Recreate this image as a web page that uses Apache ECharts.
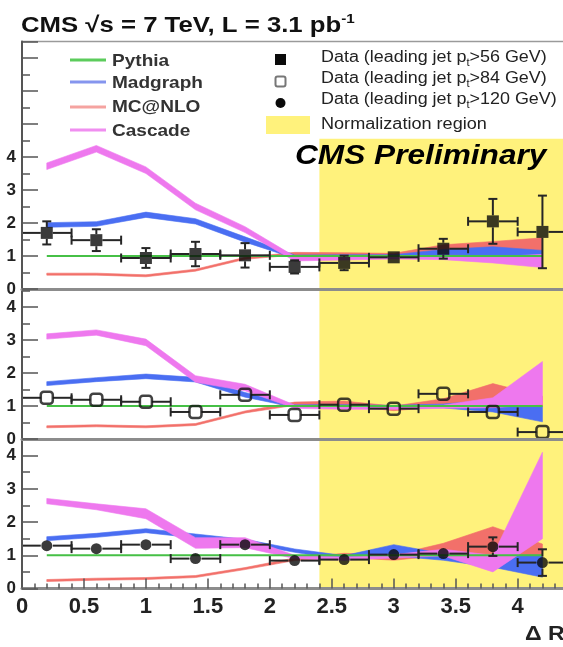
<!DOCTYPE html>
<html><head><meta charset="utf-8">
<script src="https://cdn.jsdelivr.net/npm/echarts@6/dist/echarts.min.js"></script>
<style>html,body{margin:0;padding:0;background:#fff}#c{width:563px;height:647px}</style>
</head><body><div id="c"></div>
<script>
// ---------- data ----------
const binCenters = [0.2, 0.6, 1.0, 1.4, 1.8, 2.2, 2.6, 3.0, 3.4, 3.8, 4.2];
const binHalfWidth = 0.2;
const normRegionStart = 2.4;
const yTickLabels = [0, 1, 2, 3, 4];
const xTickLabels = [0, 0.5, 1, 1.5, 2, 2.5, 3, 3.5, 4];

// panel 1 : leading jet pT > 56 GeV
const data56 = [1.70, 1.48, 0.94, 1.06, 1.02, 0.67, 0.79, 0.96, 1.22, 2.05, 1.73];
const err56  = [0.35, 0.33, 0.30, 0.37, 0.37, 0.20, 0.22, 0.10, 0.30, 0.68, 1.10];
const pythia56 = [1, 1, 1, 1, 1, 1, 1, 1, 1, 1, 1];
const madgraph56     = [1.94, 1.97, 2.25, 2.05, 1.50, 0.98, 1.00, 1.00, 1.12, 1.15, 1.05];
const madgraph56Half = [0.07, 0.07, 0.08, 0.08, 0.08, 0.05, 0.04, 0.04, 0.08, 0.13, 0.12];
const mcatnlo56      = [0.45, 0.45, 0.40, 0.57, 0.93, 1.07, 1.05, 1.02, 1.17, 1.22, 1.27];
const mcatnlo56Half  = [0.03, 0.03, 0.03, 0.03, 0.03, 0.04, 0.05, 0.06, 0.17, 0.22, 0.28];
const cascade56      = [3.72, 4.25, 3.60, 2.50, 1.80, 0.92, 0.93, 0.96, 0.95, 0.88, 0.85];
const cascade56Half  = [0.10, 0.10, 0.10, 0.10, 0.09, 0.07, 0.05, 0.05, 0.06, 0.09, 0.20];

// panel 2 : leading jet pT > 84 GeV
const data84 = [1.25, 1.19, 1.13, 0.82, 1.34, 0.73, 1.04, 0.92, 1.37, 0.82, 0.21];
const err84  = [0.08, 0.07, 0.08, 0.08, 0.16, 0.08, 0.08, 0.06, 0.12, 0.16, 0.12];
const pythia84 = [1, 1, 1, 1, 1, 1, 1, 1, 1, 1, 1];
const madgraph84     = [1.68, 1.80, 1.90, 1.80, 1.34, 1.00, 1.00, 0.98, 1.00, 1.00, 0.76];
const madgraph84Half = [0.06, 0.06, 0.07, 0.07, 0.07, 0.04, 0.04, 0.04, 0.06, 0.18, 0.24];
const mcatnlo84      = [0.37, 0.40, 0.37, 0.44, 0.82, 1.07, 1.08, 0.93, 1.10, 1.35, 1.15];
const mcatnlo84Half  = [0.03, 0.03, 0.03, 0.03, 0.03, 0.05, 0.07, 0.07, 0.12, 0.33, 0.15];
const cascade84      = [3.11, 3.23, 2.93, 1.82, 1.56, 0.98, 0.95, 0.95, 0.98, 1.10, 1.70];
const cascade84Half  = [0.08, 0.08, 0.10, 0.10, 0.10, 0.05, 0.05, 0.05, 0.05, 0.15, 0.65];

// panel 3 : leading jet pT > 120 GeV
const data120 = [1.29, 1.20, 1.32, 0.90, 1.32, 0.84, 0.87, 1.02, 1.05, 1.26, 0.78];
const err120  = [0.10, 0.08, 0.10, 0.08, 0.12, 0.06, 0.06, 0.07, 0.10, 0.28, 0.40];
const pythia120 = [1, 1, 1, 1, 1, 1, 1, 1, 1, 1, 1];
const madgraph120     = [1.50, 1.60, 1.74, 1.58, 1.42, 1.14, 0.92, 1.15, 0.95, 0.82, 0.67];
const madgraph120Half = [0.06, 0.06, 0.06, 0.06, 0.06, 0.05, 0.07, 0.17, 0.10, 0.18, 0.33];
const mcatnlo120      = [0.24, 0.28, 0.30, 0.36, 0.60, 0.88, 1.00, 0.93, 1.18, 1.43, 1.17];
const mcatnlo120Half  = [0.03, 0.03, 0.03, 0.03, 0.03, 0.04, 0.06, 0.08, 0.18, 0.43, 0.17];
const cascade120      = [2.63, 2.46, 2.25, 1.37, 1.38, 0.95, 0.90, 0.97, 1.08, 0.75, 2.80];
const cascade120Half  = [0.08, 0.09, 0.15, 0.16, 0.15, 0.05, 0.05, 0.05, 0.10, 0.25, 1.30];

// ---------- layout / style ----------
const FONT = '"Liberation Sans", Arial, sans-serif';
const X_MAX = 4.6;
const Y_MAX = [7.5, 4.55, 4.5];
const NORM_TOP = [4.55, 4.55, 4.5];
const GRIDS = [
  {left: 22, top: 41.5, width: 570, height: 247.5},
  {left: 22, top: 289, width: 570, height: 150},
  {left: 22, top: 439, width: 570, height: 149.5}
];
const COL = {pythia: '#46c046', madgraph: '#4a6ef2', mcatnlo: '#f2706a', cascade: '#ee78ee', yellow: '#fff27c'};
const LEG = {pythia: '#5ccc5c', madgraph: '#8595ee', mcatnlo: '#f5a3a0', cascade: '#f08ef0'};
const MARKER_GAP = 6;

const panels = [
  {data: data56, err: err56, pythia: pythia56, mg: madgraph56, mgH: madgraph56Half, nlo: mcatnlo56, nloH: mcatnlo56Half, cas: cascade56, casH: cascade56Half, marker: 'square'},
  {data: data84, err: err84, pythia: pythia84, mg: madgraph84, mgH: madgraph84Half, nlo: mcatnlo84, nloH: mcatnlo84Half, cas: cascade84, casH: cascade84Half, marker: 'open'},
  {data: data120, err: err120, pythia: pythia120, mg: madgraph120, mgH: madgraph120Half, nlo: mcatnlo120, nloH: mcatnlo120Half, cas: cascade120, casH: cascade120Half, marker: 'circle'}
];

function xAxisFor(i) {
  const isBottom = i === 2;
  return {
    type: 'value', gridIndex: i, min: 0, max: X_MAX, interval: 0.5, z: 10,
    axisLine: {show: true, onZero: false, lineStyle: {color: '#8c8c8c', width: 3}},
    axisTick: {show: isBottom, inside: true, length: 10, lineStyle: {color: '#555', width: 1.5}},
    minorTick: {show: isBottom, splitNumber: 5, length: 5, lineStyle: {color: '#555', width: 1.5}},
    axisLabel: {show: isBottom, margin: 7, fontSize: 22, fontWeight: 'bold', fontFamily: FONT, color: '#222',
      formatter: v => xTickLabels.some(t => Math.abs(t - v) < 1e-6) ? String(v) : ''},
    splitLine: {show: false}
  };
}
function yAxisFor(i) {
  return {
    type: 'value', gridIndex: i, min: 0, max: Y_MAX[i], interval: 1, z: 10,
    axisLine: {show: true, onZero: false, lineStyle: {color: '#555', width: 2}},
    axisTick: {show: true, inside: true, length: 16, lineStyle: {color: '#555', width: 1.5}},
    minorTick: {show: true, splitNumber: 2, length: 8, lineStyle: {color: '#555', width: 1.5}},
    axisLabel: {margin: 6, fontSize: 17, fontWeight: 'bold', fontFamily: FONT, color: '#222',
      formatter: v => yTickLabels.some(t => Math.abs(t - v) < 1e-6) ? String(v) : ''},
    splitLine: {show: false}
  };
}

// MC band drawn as one polygon (lower edge left->right, upper edge right->left)
function band(i, center, half, color) {
  const rows = binCenters.map((x, k) => [x, center[k] - half[k], center[k] + half[k]]);
  return {
    type: 'custom', xAxisIndex: i, yAxisIndex: i, data: rows, silent: true, z: 3,
    encode: {x: 0, y: [1, 2]},
    renderItem: function (params, api) {
      if (params.dataIndex !== 0) return null;
      const lower = rows.map(r => api.coord([r[0], r[1]]));
      const upper = rows.map(r => api.coord([r[0], r[2]])).reverse();
      return {type: 'polygon', shape: {points: lower.concat(upper)},
        style: {fill: color, stroke: color, lineWidth: 0.6}};
    }
  };
}

// error bars with caps, interrupted around the marker (ROOT style)
function renderErr(params, api) {
  const x = api.value(0), y = api.value(1), e = api.value(2);
  const c = api.coord([x, y]);
  const top = api.coord([x, y + e]), bot = api.coord([x, y - e]);
  const l = api.coord([x - binHalfWidth, y]), r = api.coord([x + binHalfWidth, y]);
  const cap = 4.5, g = MARKER_GAP;
  const s = {stroke: '#262626', lineWidth: 2, fill: null};
  const ln = (x1, y1, x2, y2) => ({type: 'line', shape: {x1, y1, x2, y2}, style: s});
  const kids = [
    ln(l[0], l[1], c[0] - g, c[1]),
    ln(c[0] + g, c[1], r[0], r[1]),
    ln(l[0], l[1] - cap, l[0], l[1] + cap),
    ln(r[0], r[1] - cap, r[0], r[1] + cap)
  ];
  if (c[1] - top[1] > g) {
    kids.push(ln(top[0], top[1], c[0], c[1] - g));
    kids.push(ln(c[0], c[1] + g, bot[0], bot[1]));
    kids.push(ln(top[0] - cap, top[1], top[0] + cap, top[1]));
    kids.push(ln(bot[0] - cap, bot[1], bot[0] + cap, bot[1]));
  }
  return {type: 'group', children: kids};
}

const series = [];
panels.forEach((p, i) => {
  series.push({type: 'line', xAxisIndex: i, yAxisIndex: i, data: [[normRegionStart, 0]], symbol: 'none', silent: true, z: 1,
    lineStyle: {opacity: 0},
    markArea: {silent: true, itemStyle: {color: COL.yellow, opacity: 1},
      data: [[{xAxis: normRegionStart, yAxis: 0}, {xAxis: X_MAX, yAxis: NORM_TOP[i]}]]}});
  series.push(band(i, p.nlo, p.nloH, COL.mcatnlo));
  series.push(band(i, p.mg, p.mgH, COL.madgraph));
  series.push(band(i, p.cas, p.casH, COL.cascade));
  series.push({type: 'line', xAxisIndex: i, yAxisIndex: i, data: binCenters.map((x, k) => [x, p.pythia[k]]),
    symbol: 'none', silent: true, z: 4, lineStyle: {color: COL.pythia, width: 2}});
  const pts = binCenters.map((x, k) => [x, p.data[k], p.err[k]]);
  series.push({type: 'custom', xAxisIndex: i, yAxisIndex: i, data: pts, renderItem: renderErr, z: 5,
    encode: {x: 0, y: 1}, silent: true});
  let marker;
  if (p.marker === 'square') marker = {symbol: 'rect', symbolSize: 12, itemStyle: {color: '#0a0a0a'}};
  else if (p.marker === 'open') marker = {symbol: 'roundRect', symbolSize: 12, itemStyle: {color: 'rgba(0,0,0,0)', borderColor: '#111', borderWidth: 2.5}};
  else marker = {symbol: 'circle', symbolSize: 11, itemStyle: {color: '#0a0a0a'}};
  series.push(Object.assign({type: 'scatter', xAxisIndex: i, yAxisIndex: i, data: pts.map(d => [d[0], d[1]]), z: 6, silent: true}, marker));
});

const legText = (x, y, text) => ({type: 'text', x: x, y: y, z: 100, scaleX: 1.12,
  style: {text: text, font: 'bold 17px ' + FONT, fill: '#333', align: 'left', verticalAlign: 'middle'}});
const legLine = (y, color) => ({type: 'line', z: 100, shape: {x1: 70, y1: y, x2: 106, y2: y}, style: {stroke: color, lineWidth: 3}});
const dataText = (y, cut) => ({type: 'text', x: 321, y: y, z: 100, scaleX: 1.12,
  style: {text: '{a|Data (leading jet p}{t|t}{a|>' + cut + ' GeV)}', align: 'left', verticalAlign: 'middle',
    rich: {a: {fontFamily: FONT, fontSize: 16, fill: '#222', lineHeight: 20},
           t: {fontFamily: FONT, fontSize: 10, fill: '#222', lineHeight: 11, verticalAlign: 'bottom'}}}});

const graphic = [
  {type: 'text', x: 21, y: 26, z: 100, scaleX: 1.17,
    style: {text: '{m|CMS √s = 7 TeV, L = 3.1 pb}{s|-1}', align: 'left', verticalAlign: 'middle',
      rich: {m: {fontFamily: FONT, fontWeight: 'bold', fontSize: 22, fill: '#111', lineHeight: 26},
             s: {fontFamily: FONT, fontWeight: 'bold', fontSize: 13, fill: '#111', lineHeight: 14, verticalAlign: 'top'}}}},
  legLine(60, LEG.pythia), legLine(82, LEG.madgraph), legLine(107, LEG.mcatnlo), legLine(130, LEG.cascade),
  legText(112, 61, 'Pythia'), legText(112, 83, 'Madgraph'), legText(112, 107, 'MC@NLO'), legText(112, 131, 'Cascade'),
  {type: 'rect', z: 100, shape: {x: 275, y: 54, width: 11, height: 11}, style: {fill: '#0a0a0a'}},
  {type: 'rect', z: 100, shape: {x: 275.5, y: 76.5, width: 10, height: 10, r: 2}, style: {fill: '#fff', stroke: '#777', lineWidth: 2}},
  {type: 'circle', z: 100, shape: {cx: 280.5, cy: 103, r: 5}, style: {fill: '#0a0a0a'}},
  {type: 'rect', z: 100, shape: {x: 266, y: 116, width: 44, height: 18}, style: {fill: COL.yellow}},
  dataText(58, '56'), dataText(79, '84'), dataText(100, '120'),
  {type: 'text', x: 321, y: 125, z: 100, scaleX: 1.13, style: {text: 'Normalization region', font: '16px ' + FONT, fill: '#222', align: 'left', verticalAlign: 'middle'}},
  {type: 'text', x: 295, y: 156, z: 100, scaleX: 1.13, style: {text: 'CMS Preliminary', font: 'italic bold 28px ' + FONT, fill: '#000', align: 'left', verticalAlign: 'middle'}},
  {type: 'text', x: 525, y: 634, z: 100, scaleX: 1.1, style: {text: 'Δ R', font: 'bold 21px ' + FONT, fill: '#222', align: 'left', verticalAlign: 'middle'}}
];

const chart = echarts.init(document.getElementById('c'), null, {renderer: 'canvas'});
chart.setOption({
  animation: false,
  backgroundColor: '#fff',
  grid: GRIDS.map((g, i) => Object.assign({containLabel: false, outerBoundsMode: 'none',
    show: i === 0, borderColor: '#9a9a9a', borderWidth: 1.5, backgroundColor: 'transparent'}, g)),
  xAxis: [0, 1, 2].map(xAxisFor),
  yAxis: [0, 1, 2].map(yAxisFor),
  series: series,
  graphic: graphic
});
</script>
</body></html>
